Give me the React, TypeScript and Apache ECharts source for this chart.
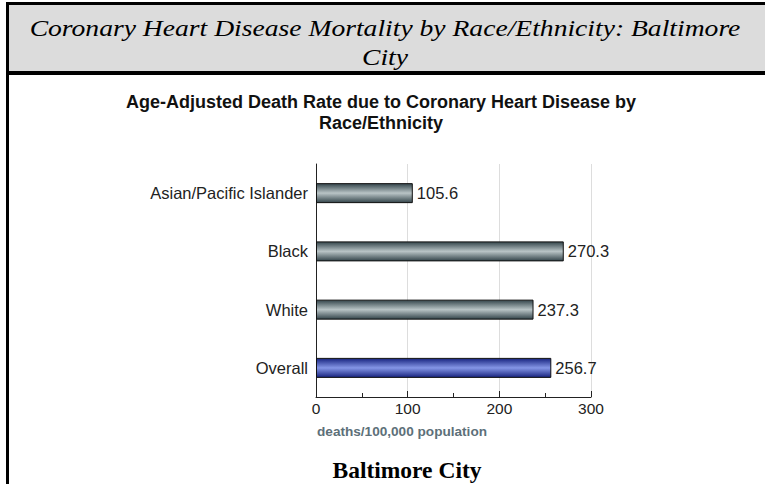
import React, { useEffect, useRef } from "react";
import * as echarts from "echarts";

const categories = ["Asian/Pacific Islander", "Black", "White", "Overall"];
const values = [105.6, 270.3, 237.3, 256.7];
const xTicks = [0, 100, 200, 300];
const headerTitle = ["Coronary Heart Disease Mortality by Race/Ethnicity: Baltimore", "City"];
const chartTitle = "Age-Adjusted Death Rate due to Coronary Heart Disease by\nRace/Ethnicity";
const axisName = "deaths/100,000 population";
const footer = "Baltimore City";

const grayGrad = () =>
  new echarts.graphic.LinearGradient(0, 0, 0, 1, [
    { offset: 0, color: "#34454b" },
    { offset: 0.5, color: "#b9c4c6" },
    { offset: 1, color: "#34454b" },
  ]);
const blueGrad = () =>
  new echarts.graphic.LinearGradient(0, 0, 0, 1, [
    { offset: 0, color: "#17237f" },
    { offset: 0.5, color: "#8596e6" },
    { offset: 1, color: "#17237f" },
  ]);

export default function App() {
  const ref = useRef<HTMLDivElement>(null);
  useEffect(() => {
    const chart = echarts.init(ref.current!, null, { renderer: "svg" });
    const sans = "Liberation Sans";
    const serif = "Liberation Serif";
    chart.setOption({
      animation: false,
      backgroundColor: "#ffffff",
      graphic: [
        { type: "rect", shape: { x: 8, y: 3, width: 757, height: 70 }, style: { fill: "#dcdcdc" } },
        { type: "rect", shape: { x: 6, y: 2, width: 759, height: 3 }, style: { fill: "#000" } },
        { type: "rect", shape: { x: 6, y: 71, width: 759, height: 4 }, style: { fill: "#000" } },
        { type: "rect", shape: { x: 6, y: 2, width: 3, height: 482 }, style: { fill: "#000" } },
        {
          type: "text",
          x: 385,
          y: 28,
          scaleX: 1.15,
          style: {
            text: headerTitle[0],
            fontFamily: serif,
            fontStyle: "italic",
            fontSize: 24,
            fill: "#000",
            align: "center",
            verticalAlign: "middle",
          },
        },
        {
          type: "text",
          x: 385,
          y: 57,
          scaleX: 1.15,
          style: {
            text: headerTitle[1],
            fontFamily: serif,
            fontStyle: "italic",
            fontSize: 24,
            fill: "#000",
            align: "center",
            verticalAlign: "middle",
          },
        },
        {
          type: "text",
          x: 381,
          y: 112,
          style: {
            text: chartTitle,
            fontFamily: sans,
            fontWeight: "bold",
            fontSize: 18,
            fill: "#111",
            align: "center",
            verticalAlign: "middle",
            lineHeight: 21,
          },
        },
        {
          type: "text",
          x: 402,
          y: 431,
          style: {
            text: axisName,
            fontFamily: sans,
            fontWeight: "bold",
            fontSize: 13.6,
            fill: "#5d7079",
            align: "center",
            verticalAlign: "middle",
          },
        },
        {
          type: "text",
          x: 407,
          y: 470,
          style: {
            text: footer,
            fontFamily: serif,
            fontWeight: "bold",
            fontSize: 23.5,
            fill: "#000",
            align: "center",
            verticalAlign: "middle",
          },
        },
      ],
      grid: { left: 316, right: 174, top: 164, bottom: 87, containLabel: false },
      xAxis: {
        type: "value",
        min: xTicks[0],
        max: xTicks[xTicks.length - 1],
        interval: 100,
        axisLine: { show: true, lineStyle: { color: "#222", width: 1 } },
        axisTick: { show: true, inside: true, length: 6, lineStyle: { color: "#222" } },
        minorTick: { show: true, splitNumber: 2, length: 4, lineStyle: { color: "#222" } },
        splitLine: { show: true, lineStyle: { color: "#dddddd", width: 1 } },
        axisLabel: { fontFamily: sans, fontSize: 15.5, color: "#222", margin: 3 },
      },
      yAxis: {
        type: "category",
        data: categories,
        inverse: true,
        axisLine: { show: true, lineStyle: { color: "#222", width: 1 } },
        axisTick: { show: false },
        axisLabel: { fontFamily: sans, fontSize: 16.5, color: "#222", margin: 8 },
      },
      series: [
        {
          type: "bar",
          barWidth: 20,
          data: values.map((v, i) => ({
            value: v,
            itemStyle: {
              color: categories[i] === "Overall" ? blueGrad() : grayGrad(),
              borderColor: "#111",
              borderWidth: 1,
            },
          })),
          label: {
            show: true,
            position: "right",
            distance: 4,
            fontFamily: sans,
            fontSize: 16.5,
            color: "#222",
          },
        },
      ],
    });
    return () => chart.dispose();
  }, []);
  return (
    <div
      ref={ref}
      style={{ position: "fixed", left: 0, top: 0, width: 765, height: 484 }}
    />
  );
}
